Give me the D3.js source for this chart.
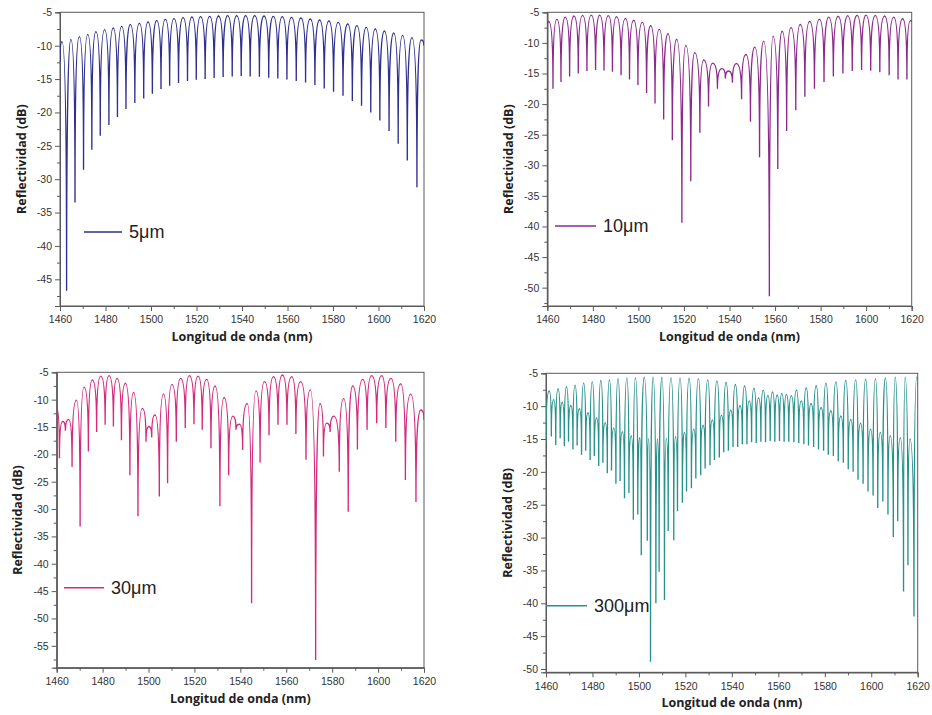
<!DOCTYPE html>
<html>
<head>
<meta charset="utf-8">
<script src="https://cdn.jsdelivr.net/npm/d3@7"></script>
<style>
  body { margin: 0; background: #fff; }
  svg text { font-family: "Liberation Sans", Arial, sans-serif; }
</style>
</head>
<body>
<svg id="chart" width="932" height="715"></svg>
<script>
// wavelength axis (nm)
var xTicks = [1460, 1480, 1500, 1520, 1540, 1560, 1580, 1600, 1620];
var xMinor = [1470, 1490, 1510, 1530, 1550, 1570, 1590, 1610];

var yTicks5 = [-45, -40, -35, -30, -25, -20, -15, -10, -5];
var yTicks10 = [-50, -45, -40, -35, -30, -25, -20, -15, -10, -5];
var yTicks30 = [-55, -50, -45, -40, -35, -30, -25, -20, -15, -10, -5];
var yTicks300 = [-50, -45, -40, -35, -30, -25, -20, -15, -10, -5];

var labels = ["5μm", "10μm", "30μm", "300μm"];

// spectra: fringe maxima and minima [nm, dB]
var spec5 = [
  [1460.0, -12.4], [1460.9, -9.4], [1462.9, -46.7], [1464.8, -9.05], [1466.6, -33.5],
  [1468.5, -8.65], [1470.35, -28.6], [1472.2, -8.3], [1474.0, -25.6], [1475.8, -7.9],
  [1477.7, -23.5], [1479.6, -7.6], [1481.5, -21.9], [1483.4, -7.35], [1485.25, -20.7],
  [1487.1, -7.1], [1489.0, -19.5], [1490.9, -6.85], [1492.9, -18.6], [1494.9, -6.65],
  [1496.8, -17.9], [1498.7, -6.45], [1500.6, -17.2], [1502.5, -6.25], [1504.4, -16.5],
  [1506.3, -6.05], [1508.2, -16.0], [1510.1, -5.95], [1512.1, -15.6], [1514.1, -5.8],
  [1516.05, -15.3], [1518.0, -5.7], [1519.9, -15.1], [1521.8, -5.65], [1523.8, -15.0],
  [1525.8, -5.6], [1527.75, -14.85], [1529.7, -5.55], [1531.7, -14.7], [1533.7, -5.5],
  [1535.7, -14.6], [1537.7, -5.5], [1539.65, -14.55], [1541.6, -5.5], [1543.6, -14.6],
  [1545.6, -5.5], [1547.65, -14.65], [1549.7, -5.55], [1551.75, -14.8], [1553.8, -5.6],
  [1555.75, -14.9], [1557.7, -5.65], [1559.75, -15.05], [1561.8, -5.75], [1563.85, -15.3],
  [1565.9, -5.85], [1567.95, -15.5], [1570.0, -6.0], [1572.05, -15.9], [1574.1, -6.15],
  [1576.15, -16.4], [1578.2, -6.3], [1580.25, -16.9], [1582.3, -6.5], [1584.4, -17.5],
  [1586.5, -6.75], [1588.5, -18.3], [1590.5, -7.0], [1592.55, -19.0], [1594.6, -7.25],
  [1596.6, -20.0], [1598.6, -7.5], [1600.6, -21.2], [1602.6, -7.8], [1604.65, -22.8],
  [1606.7, -8.1], [1608.65, -24.7], [1610.6, -8.45], [1612.65, -27.2], [1614.7, -8.8],
  [1616.9, -31.2], [1618.7, -9.15], [1620.0, -10.0]
];

var spec10 = [
  [1460.0, -7.0], [1460.6, -6.5], [1462.5, -17.5], [1464.2, -6.15], [1466.0, -16.4],
  [1467.9, -5.8], [1469.8, -15.5], [1471.7, -5.6], [1473.6, -15.0], [1475.5, -5.5],
  [1477.4, -14.6], [1479.3, -5.45], [1481.2, -14.45], [1483.0, -5.45], [1484.9, -14.5],
  [1486.8, -5.55], [1488.6, -14.7], [1490.4, -5.7], [1492.4, -15.3], [1494.3, -6.0],
  [1496.1, -16.0], [1497.9, -6.3], [1499.8, -16.9], [1501.7, -6.65], [1503.6, -18.2],
  [1505.4, -7.2], [1507.3, -19.9], [1509.2, -7.8], [1511.1, -22.5], [1513.0, -8.5],
  [1514.9, -25.9], [1516.8, -9.4], [1519.1, -39.4], [1520.8, -10.4], [1523.0, -32.6],
  [1524.7, -11.6], [1527.0, -24.7], [1528.7, -12.8], [1530.8, -20.4], [1532.6, -13.3],
  [1534.7, -17.5], [1536.7, -14.2], [1538.2, -15.8], [1539.6, -14.6], [1541.3, -16.5],
  [1543.1, -13.4], [1545.3, -19.2], [1547.2, -11.9], [1549.2, -22.9], [1551.1, -10.7],
  [1553.2, -28.7], [1555.0, -9.7], [1557.5, -51.4], [1559.1, -8.9], [1561.2, -30.6],
  [1563.1, -8.1], [1565.1, -24.4], [1567.0, -7.5], [1569.1, -21.0], [1571.1, -7.0],
  [1573.1, -18.8], [1575.2, -6.5], [1577.3, -17.5], [1579.5, -6.15], [1581.5, -16.4],
  [1583.6, -5.8], [1585.6, -15.5], [1587.7, -5.65], [1589.8, -15.0], [1591.9, -5.55],
  [1593.9, -14.6], [1596.0, -5.5], [1598.0, -14.45], [1599.9, -5.45], [1602.0, -14.55],
  [1604.0, -5.5], [1606.0, -14.8], [1608.1, -5.6], [1610.1, -15.3], [1612.1, -5.8],
  [1614.0, -16.0], [1616.0, -6.05], [1617.9, -16.0], [1619.4, -6.35], [1620.0, -6.6]
];

var spec30 = [
  [1460.0, -11.6], [1461.2, -20.7], [1462.6, -14.0], [1463.8, -15.7], [1465.2, -13.6],
  [1466.7, -22.3], [1468.6, -10.1], [1470.2, -33.2], [1471.9, -7.7], [1473.8, -19.5],
  [1475.5, -6.4], [1477.4, -15.9], [1479.2, -5.7], [1481.1, -14.6], [1482.8, -5.6],
  [1484.7, -14.9], [1486.3, -6.1], [1488.2, -17.4], [1489.9, -7.0], [1491.9, -23.8],
  [1493.5, -8.7], [1495.4, -31.3], [1497.3, -11.6], [1498.9, -17.7], [1500.2, -14.9],
  [1501.4, -16.9], [1502.8, -12.8], [1504.7, -27.7], [1506.5, -9.0], [1508.3, -25.3],
  [1510.2, -7.2], [1512.1, -17.7], [1514.0, -6.1], [1516.0, -15.2], [1517.8, -5.6],
  [1519.8, -14.5], [1521.6, -5.7], [1523.4, -15.5], [1525.3, -6.3], [1527.2, -18.9],
  [1529.0, -7.5], [1531.1, -29.5], [1532.9, -9.6], [1534.9, -23.8], [1536.7, -13.0],
  [1538.1, -15.5], [1539.6, -14.5], [1541.0, -19.2], [1543.0, -10.7], [1544.9, -47.2],
  [1546.8, -8.4], [1548.6, -21.5], [1550.5, -6.7], [1552.5, -16.5], [1554.4, -5.8],
  [1556.4, -14.6], [1558.3, -5.5], [1560.3, -14.6], [1562.4, -5.8], [1564.2, -16.3],
  [1566.3, -6.7], [1568.6, -21.0], [1570.5, -8.2], [1572.8, -57.6], [1574.7, -10.7],
  [1576.2, -20.4], [1577.6, -14.3], [1579.1, -15.9], [1580.8, -13.0], [1583.1, -23.2],
  [1585.0, -9.8], [1587.0, -30.5], [1588.9, -7.5], [1591.0, -19.1], [1593.3, -6.3],
  [1595.2, -15.5], [1597.2, -5.6], [1599.4, -14.3], [1601.6, -5.6], [1603.4, -15.2],
  [1605.6, -6.1], [1607.7, -17.7], [1609.8, -7.1], [1611.9, -24.7], [1614.2, -9.0],
  [1616.5, -28.7], [1618.6, -11.9], [1620.0, -13.7]
];

var spec300 = [
  [1460.0, -15.5], [1461.4, -7.7], [1462.3, -14.6], [1463.3, -9.0], [1464.2, -15.9],
  [1465.2, -7.35], [1466.1, -14.9], [1467.0, -9.4], [1467.9, -16.1], [1468.8, -7.05],
  [1469.7, -15.4], [1470.7, -9.9], [1471.6, -16.6], [1472.5, -6.8], [1473.4, -16.0],
  [1474.4, -10.4], [1475.3, -17.4], [1476.2, -6.5], [1477.1, -16.8], [1478.1, -11.0],
  [1479.0, -18.2], [1479.9, -6.3], [1480.8, -17.6], [1481.8, -11.8], [1482.7, -19.1],
  [1483.6, -6.1], [1484.5, -18.6], [1485.5, -12.5], [1486.4, -20.2], [1487.3, -6.0],
  [1488.2, -19.8], [1489.2, -13.3], [1490.1, -21.8], [1491.0, -5.8], [1491.9, -21.4],
  [1492.9, -13.9], [1493.8, -24.0], [1494.8, -5.7], [1495.7, -23.2], [1496.7, -14.5],
  [1497.6, -27.3], [1498.5, -5.65], [1499.5, -26.5], [1500.4, -14.8], [1501.0, -32.7],
  [1502.3, -5.6], [1503.6, -30.5], [1504.2, -15.0], [1505.0, -48.9], [1506.1, -5.6],
  [1507.3, -40.0], [1508.0, -15.0], [1508.7, -35.2], [1509.9, -5.6], [1511.0, -39.5],
  [1511.8, -14.9], [1512.6, -29.0], [1513.8, -5.7], [1515.0, -30.4], [1515.7, -14.65],
  [1516.6, -26.0], [1517.7, -5.7], [1518.7, -24.7], [1519.6, -14.0], [1520.5, -23.0],
  [1521.6, -5.75], [1522.6, -22.5], [1523.6, -13.5], [1524.5, -21.0], [1525.6, -5.8],
  [1526.6, -20.5], [1527.6, -12.9], [1528.5, -19.5], [1529.6, -6.0], [1530.6, -19.0],
  [1531.6, -12.1], [1532.5, -18.2], [1533.6, -6.15], [1534.6, -17.8], [1535.5, -11.4],
  [1536.5, -17.0], [1537.5, -6.4], [1538.5, -16.8], [1539.5, -10.6], [1540.5, -16.2],
  [1541.5, -6.7], [1542.5, -16.2], [1543.5, -9.9], [1544.5, -15.8], [1545.5, -6.9],
  [1546.5, -15.8], [1547.5, -9.2], [1548.5, -15.5], [1549.5, -7.25], [1550.5, -15.6],
  [1551.5, -8.75], [1552.5, -15.4], [1553.5, -7.55], [1554.5, -15.5], [1555.5, -8.35],
  [1556.5, -15.3], [1557.5, -7.85], [1558.5, -15.4], [1559.5, -8.3], [1560.5, -15.3],
  [1561.5, -8.05], [1562.5, -15.4], [1563.5, -8.2], [1564.5, -15.4], [1565.6, -8.4],
  [1566.7, -15.5], [1567.8, -7.55], [1568.8, -15.6], [1569.9, -9.2], [1571.0, -15.8],
  [1572.0, -7.2], [1573.0, -16.0], [1574.1, -9.6], [1575.2, -16.2], [1576.3, -6.9],
  [1577.3, -16.6], [1578.4, -10.2], [1579.5, -16.8], [1580.5, -6.5], [1581.5, -17.4],
  [1582.6, -10.7], [1583.7, -17.6], [1584.8, -6.3], [1585.8, -18.4], [1586.9, -11.5],
  [1588.0, -18.6], [1589.0, -6.1], [1590.1, -19.6], [1591.2, -12.0], [1592.2, -20.0],
  [1593.3, -6.0], [1594.3, -21.2], [1595.4, -12.6], [1596.5, -21.8], [1597.6, -5.9],
  [1598.6, -23.0], [1599.7, -13.5], [1600.8, -23.6], [1601.8, -5.8], [1602.8, -25.5],
  [1603.9, -14.0], [1605.0, -24.5], [1606.1, -5.7], [1607.2, -26.5], [1608.2, -14.5],
  [1609.5, -29.9], [1610.3, -5.6], [1611.4, -27.5], [1612.5, -14.8], [1613.9, -38.2],
  [1614.6, -5.6], [1615.8, -34.2], [1616.7, -15.0], [1618.4, -42.0], [1619.6, -5.6],
  [1620.0, -5.9]
];

// layout of the four panels
var panels = [
  { data: spec5, ticks: yTicks5, yMin: -49, color: "#2e2f8e", label: labels[0],
    left: 60, right: 424, top: 12.3, bottom: 306, titleX: 22, leg: [84, 122, 232] },
  { data: spec10, ticks: yTicks10, yMin: -53, color: "#8c2a8c", label: labels[1],
    left: 547.3, right: 911.7, top: 12.3, bottom: 306, titleX: 509, leg: [555, 596, 226] },
  { data: spec30, ticks: yTicks30, yMin: -59, color: "#d42a7c", label: labels[2],
    left: 56.7, right: 424, top: 372.3, bottom: 667.7, titleX: 18, leg: [64, 104, 587.7] },
  { data: spec300, ticks: yTicks300, yMin: -50.5, color: "#27918c", label: labels[3],
    left: 546, right: 917.7, top: 373.3, bottom: 672.3, titleX: 508, leg: [546, 587, 605.7] }
];

// rounded tops, needle-like dips: horizontal tangent at the upper end of
// each segment, vertical tangent at the lower end
function FringeCurve(context) { this._context = context; }
FringeCurve.prototype = {
  areaStart: function() {},
  areaEnd: function() {},
  lineStart: function() { this._pts = []; },
  point: function(x, y) { this._pts.push([+x, +y]); },
  lineEnd: function() {
    var c = this._context, pts = this._pts, kx = 0.72, ky = 0.6;
    if (!pts.length) return;
    c.moveTo(pts[0][0], pts[0][1]);
    for (var i = 1; i < pts.length; i++) {
      var a = pts[i - 1], b = pts[i];
      var dx = b[0] - a[0], dy = b[1] - a[1];
      if (dy > 0) {
        c.bezierCurveTo(a[0] + kx * dx, a[1], b[0], b[1] - ky * dy, b[0], b[1]);
      } else {
        c.bezierCurveTo(a[0], a[1] + ky * dy, b[0] - kx * dx, b[1], b[0], b[1]);
      }
    }
  }
};
function fringeCurve(context) { return new FringeCurve(context); }

var svg = d3.select("#chart");
var axisColor = "#5a5a5a";

function styleAxis(g) {
  g.select(".domain").attr("stroke", axisColor).attr("stroke-width", 1);
  g.selectAll(".tick line").attr("stroke", axisColor);
  g.selectAll(".tick text").attr("fill", "#333").style("font-size", "10.5px");
}

panels.forEach(function(p, i) {
  var x = d3.scaleLinear().domain([1460, 1620]).range([p.left, p.right]);
  var y = d3.scaleLinear().domain([p.yMin, -5]).range([p.bottom, p.top]);
  var g = svg.append("g");

  g.append("clipPath").attr("id", "clip" + i)
    .append("rect")
    .attr("x", p.left).attr("y", p.top - 1)
    .attr("width", p.right - p.left).attr("height", p.bottom - p.top + 1);

  // frame
  g.append("rect")
    .attr("x", p.left).attr("y", p.top)
    .attr("width", p.right - p.left).attr("height", p.bottom - p.top)
    .attr("fill", "none").attr("stroke", axisColor).attr("stroke-width", 1);

  var yMinor = d3.range(p.ticks[0] - 2.5, -5, 5).filter(function(v) { return v > p.yMin; });

  g.append("g").attr("transform", "translate(0," + p.bottom + ")")
    .call(d3.axisBottom(x).tickValues(xMinor).tickSize(3).tickFormat(""))
    .call(styleAxis);
  g.append("g").attr("transform", "translate(0," + p.bottom + ")")
    .call(d3.axisBottom(x).tickValues(xTicks).tickSize(5).tickPadding(5).tickFormat(d3.format("d")))
    .call(styleAxis);
  g.append("g").attr("transform", "translate(" + p.left + ",0)")
    .call(d3.axisLeft(y).tickValues(yMinor).tickSize(3).tickFormat(""))
    .call(styleAxis);
  g.append("g").attr("transform", "translate(" + p.left + ",0)")
    .call(d3.axisLeft(y).tickValues(p.ticks).tickSize(5).tickPadding(3)
      .tickFormat(function(d) { return String(d); }))
    .call(styleAxis);

  // axis titles
  g.append("text")
    .attr("x", (p.left + p.right) / 2).attr("y", p.bottom + 35)
    .attr("text-anchor", "middle")
    .style("font-family", "'Open Sans', sans-serif")
    .style("font-weight", "bold").style("font-size", "12.5px").attr("fill", "#222")
    .text("Longitud de onda (nm)");
  g.append("text")
    .attr("transform", "translate(" + (p.titleX + 4) + "," + ((p.top + p.bottom) / 2) + ") rotate(-90)")
    .attr("text-anchor", "middle")
    .style("font-family", "'Open Sans', sans-serif")
    .style("font-weight", "bold").style("font-size", "12.5px").attr("fill", "#222")
    .text("Reflectividad (dB)");

  // spectrum
  var line = d3.line()
    .x(function(d) { return x(d[0]); })
    .y(function(d) { return y(d[1]); })
    .curve(fringeCurve);
  g.append("path")
    .datum(p.data)
    .attr("clip-path", "url(#clip" + i + ")")
    .attr("d", line)
    .attr("fill", "none")
    .attr("stroke", p.color)
    .attr("stroke-width", 1.35);

  // legend
  g.append("line")
    .attr("x1", p.leg[0]).attr("x2", p.leg[1])
    .attr("y1", p.leg[2]).attr("y2", p.leg[2])
    .attr("stroke", p.color).attr("stroke-width", 1.5);
  g.append("text")
    .attr("x", p.leg[1] + 7).attr("y", p.leg[2]).attr("dy", "0.35em")
    .style("font-size", "18px").attr("fill", "#222")
    .text(p.label);
});
</script>
</body>
</html>
